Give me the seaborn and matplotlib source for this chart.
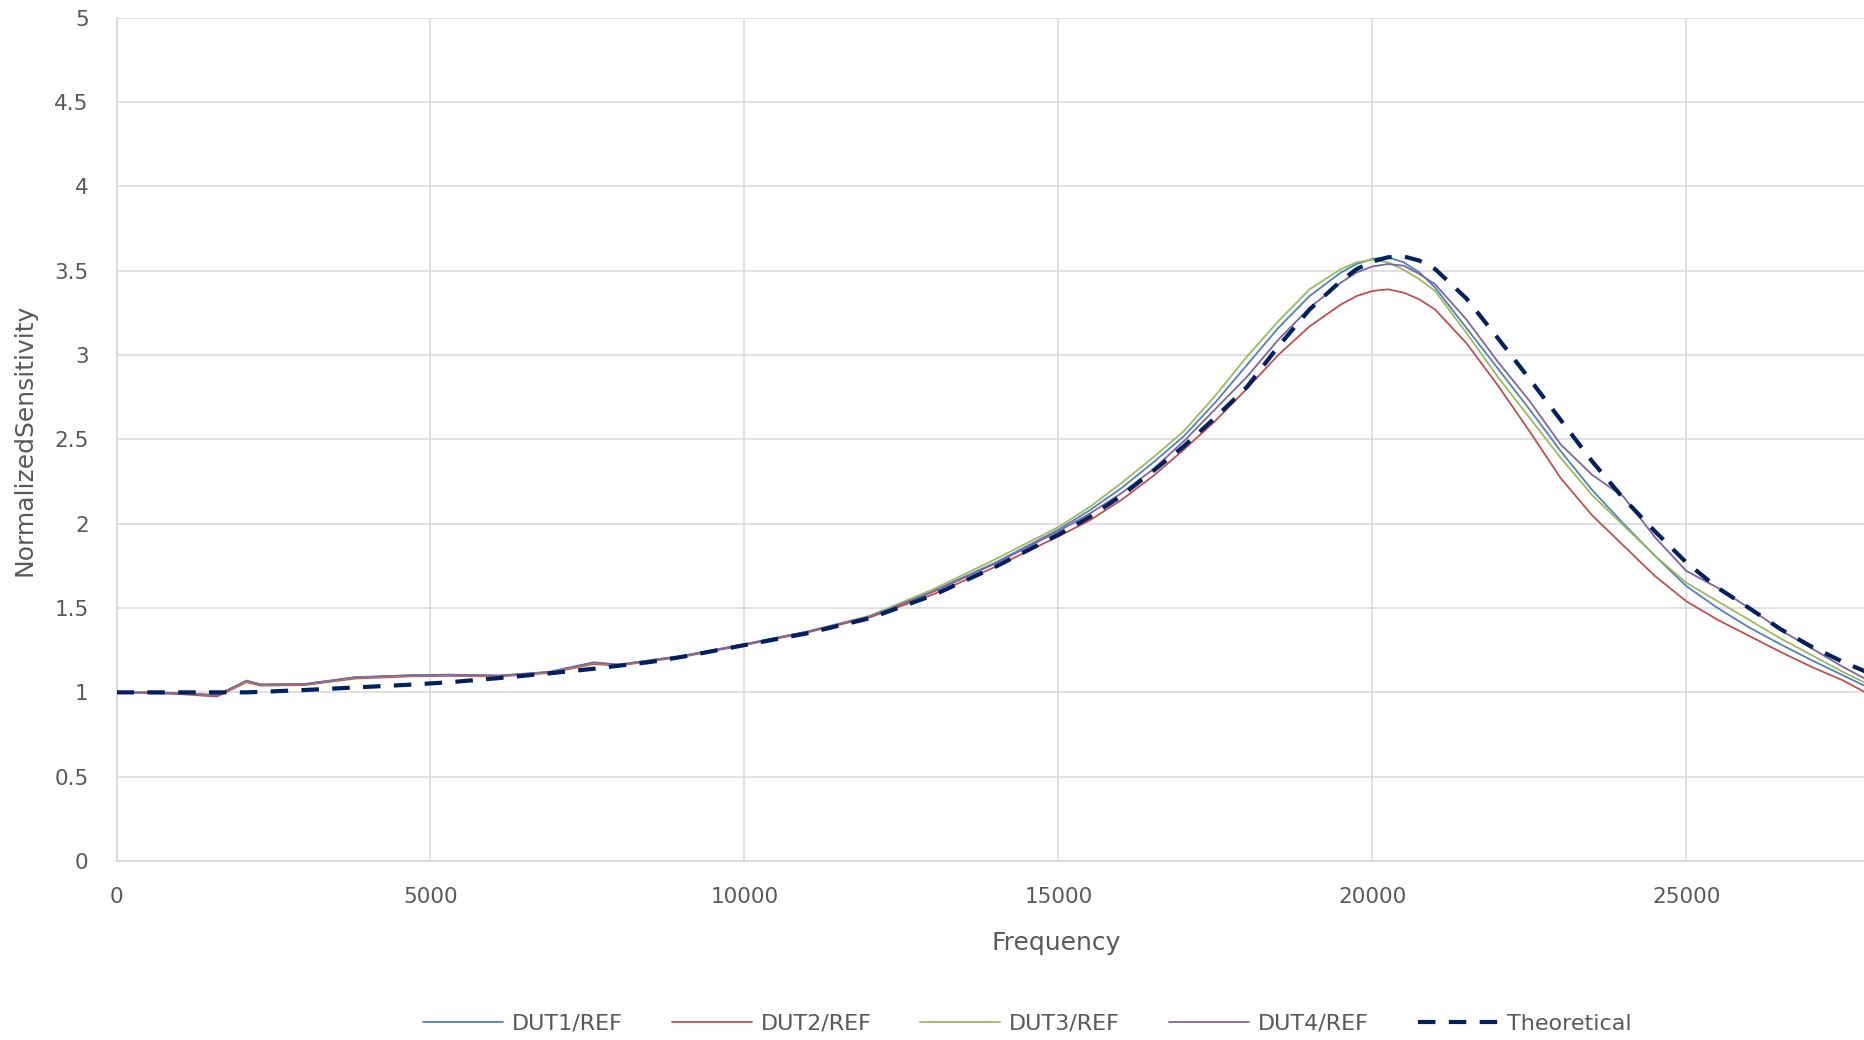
import matplotlib
matplotlib.use("Agg")
import matplotlib.pyplot as plt
import seaborn as sns
import pandas as pd

# ---------------- data ----------------
frequency = [0, 500, 1000, 1600, 2070, 2300, 3000, 3800, 4700, 5300, 6100, 6900,
             7600, 8000, 8500, 9000, 10000, 11000, 12000, 13000, 14000, 15000,
             15500, 16000, 16500, 17000, 17500, 18000, 18500, 19000, 19500, 19750,
             20000, 20250, 20500, 20750, 21000, 21500, 22000, 22500, 23000, 23500,
             24000, 24500, 25000, 25500, 26000, 26500, 27000, 27500, 28000]

dut1 = [1.0, 1.0, 0.995, 0.983, 1.066, 1.045, 1.048, 1.088, 1.10, 1.103, 1.098, 1.12,
        1.175, 1.163, 1.19, 1.215, 1.285, 1.36, 1.45, 1.60, 1.77, 1.965,
        2.08, 2.21, 2.36, 2.52, 2.72, 2.94, 3.16, 3.35, 3.49, 3.54,
        3.57, 3.58, 3.55, 3.49, 3.40, 3.16, 2.92, 2.68, 2.43, 2.20,
        2.00, 1.81, 1.63, 1.50, 1.385, 1.285, 1.19, 1.10, 1.01]

dut2 = [1.0, 0.995, 0.99, 0.975, 1.06, 1.04, 1.043, 1.082, 1.095, 1.098, 1.094, 1.115,
        1.168, 1.158, 1.185, 1.21, 1.28, 1.355, 1.445, 1.58, 1.745, 1.925,
        2.02, 2.14, 2.28, 2.44, 2.61, 2.80, 3.00, 3.17, 3.30, 3.35,
        3.38, 3.39, 3.37, 3.33, 3.27, 3.07, 2.82, 2.55, 2.27, 2.05,
        1.87, 1.69, 1.54, 1.43, 1.335, 1.24, 1.15, 1.07, 0.97]

dut3 = [1.0, 1.0, 0.995, 0.983, 1.066, 1.045, 1.048, 1.088, 1.10, 1.103, 1.098, 1.12,
        1.175, 1.163, 1.19, 1.215, 1.285, 1.36, 1.455, 1.61, 1.79, 1.98,
        2.10, 2.24, 2.39, 2.55, 2.76, 2.99, 3.20, 3.39, 3.51, 3.55,
        3.565, 3.55, 3.505, 3.45, 3.38, 3.13, 2.87, 2.63, 2.39, 2.17,
        1.99, 1.81, 1.65, 1.54, 1.43, 1.32, 1.22, 1.12, 1.03]

dut4 = [1.0, 1.0, 0.995, 0.983, 1.07, 1.047, 1.05, 1.09, 1.102, 1.105, 1.1, 1.122,
        1.178, 1.165, 1.19, 1.215, 1.285, 1.36, 1.45, 1.595, 1.765, 1.955,
        2.06, 2.18, 2.32, 2.49, 2.68, 2.87, 3.09, 3.28, 3.43, 3.49,
        3.525, 3.54, 3.53, 3.48, 3.42, 3.21, 2.96, 2.73, 2.47, 2.29,
        2.16, 1.92, 1.72, 1.62, 1.50, 1.37, 1.26, 1.15, 1.05]

theoretical = [1.0, 1.0, 1.0, 1.0, 1.0, 1.003, 1.014, 1.029, 1.046, 1.06, 1.085, 1.113,
               1.14, 1.158, 1.18, 1.21, 1.28, 1.35, 1.44, 1.575, 1.745, 1.935,
               2.04, 2.165, 2.31, 2.46, 2.63, 2.81, 3.05, 3.27, 3.44, 3.51,
               3.555, 3.58, 3.585, 3.56, 3.51, 3.335, 3.10, 2.86, 2.615, 2.37,
               2.15, 1.955, 1.77, 1.62, 1.50, 1.375, 1.27, 1.18, 1.10]

series_labels = ["DUT1/REF", "DUT2/REF", "DUT3/REF", "DUT4/REF", "Theoretical"]
series_values = [dut1, dut2, dut3, dut4, theoretical]
series_colors = ["#4F81BD", "#C0504D", "#9BBB59", "#8064A2", "#002060"]

x_ticks = [0, 5000, 10000, 15000, 20000, 25000]
y_ticks = [0, 0.5, 1, 1.5, 2, 2.5, 3, 3.5, 4, 4.5, 5]
y_tick_labels = ["0", "0.5", "1", "1.5", "2", "2.5", "3", "3.5", "4", "4.5", "5"]

# ---------------- figure ----------------
sns.set_theme(style="white")
plt.rcParams["font.family"] = ["DejaVu Sans"]
text_color = "#595959"
grid_color = "#d9d9d9"

fig = plt.figure(figsize=(18.64, 10.40), dpi=100)
ax = fig.add_axes([116.5 / 1864, 1 - 861 / 1040, 1 - 116.5 / 1864, (861 - 17.8) / 1040])

for lab, vals, col in zip(series_labels, series_values, series_colors):
    df = pd.DataFrame({"Frequency": frequency, "Value": vals})
    if lab == "Theoretical":
        sns.lineplot(data=df, x="Frequency", y="Value", ax=ax, color=col,
                     linewidth=3.0, linestyle=(0, (4.2, 3.2)), label=lab,
                     zorder=5, estimator=None, sort=False)
    else:
        sns.lineplot(data=df, x="Frequency", y="Value", ax=ax, color=col,
                     linewidth=1.3, label=lab, zorder=3, estimator=None, sort=False)

ax.set_xlim(0, 27830)
ax.set_ylim(0, 5)
ax.set_xticks(x_ticks)
ax.set_xticklabels([str(t) for t in x_ticks])
ax.set_yticks(y_ticks)
ax.set_yticklabels(y_tick_labels)
ax.grid(True, color=grid_color, linewidth=1.1)
ax.set_axisbelow(True)
for side in ["top", "right"]:
    ax.spines[side].set_visible(False)
for side in ["left", "bottom"]:
    ax.spines[side].set_color(grid_color)
    ax.spines[side].set_linewidth(1.3)
ax.tick_params(axis="both", length=0, labelsize=15.5, labelcolor=text_color)
ax.tick_params(axis="x", pad=19)
ax.tick_params(axis="y", pad=20)

ax.set_xlabel("Frequency", fontsize=18, color=text_color)
ax.set_ylabel("NormalizedSensitivity", fontsize=18, color=text_color)
ax.xaxis.set_label_coords(0.5376, -0.083)
ax.yaxis.set_label_coords(-0.0455, 0.5)

handles, labels = ax.get_legend_handles_labels()
ax.get_legend().remove()
leg = fig.legend(handles, labels, loc="center", bbox_to_anchor=(0.551, 0.0155),
                 ncol=5, frameon=False, fontsize=16, handlelength=3.6,
                 columnspacing=2.2, handletextpad=0.4, labelcolor=text_color)

fig.savefig("out.png", dpi=100)
